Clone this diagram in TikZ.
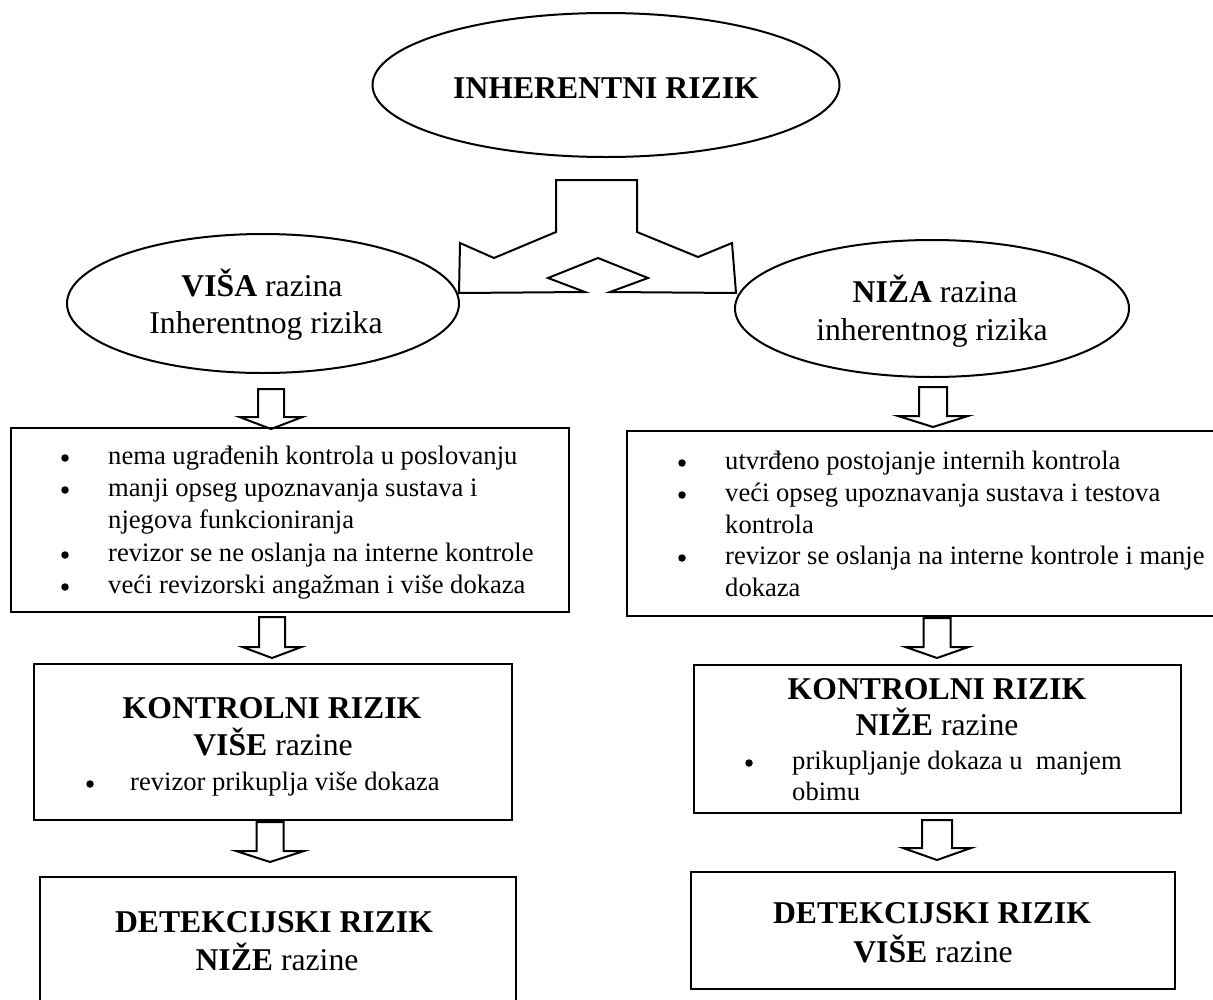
\documentclass[tikz,border=0pt]{standalone}
\usepackage{fontspec}
\setmainfont{Liberation Serif}
\usetikzlibrary{shapes.geometric}
\newcommand\blkarrow[7]{% name, cx, top, head base, tip, half stem, half head
  \draw[blk] ({#2-#6},#3) coordinate (#1) -- ({#2+#6},#3) -- ({#2+#6},#4) -- ({#2+#7},#4)
    -- (#2,#5) -- ({#2-#7},#4) -- ({#2-#6},#4) -- cycle;}
\begin{document}
\begin{tikzpicture}[x=1pt,y=-1pt,
  ln/.style={line width=2pt},
  ell/.style={ellipse, draw, ln, inner sep=0pt, outer sep=0pt},
  box/.style={rectangle, draw, line width=2.2pt, inner sep=0pt, outer sep=0pt},
  big/.style={font=\fontsize{31.7}{37}\selectfont, anchor=base, inner sep=0pt},
  body/.style={font=\fontsize{26.6}{31.7}\selectfont, anchor=base west, inner sep=0pt},
  bdot/.style={circle, fill=black, inner sep=0pt, minimum size=7.5},
  blk/.style={draw, ln, line join=miter}]
\useasboundingbox (0,0) rectangle (1213,999);
\clip (0,0) rectangle (1213,999);

% ellipses
\node[ell, minimum width=467, minimum height=144] (inh) at (606,85) {};
\node[big] (inhT) at (606,98) {\textbf{INHERENTNI RIZIK}};

\node[ell, minimum width=392, minimum height=139] (visa) at (263,303.5) {};
\node[big] (visaT1) at (262,296) {\textbf{VIŠA} razina};
\node[big] (visaT2) at (266,333) {Inherentnog rizika};

\node[ell, minimum width=394, minimum height=137] (niza) at (932,308.5) {};
\node[big] (nizaT1) at (935,302) {\textbf{NIŽA} razina};
\node[big] (nizaT2) at (932,340) {inherentnog rizika};

% fork arrow
\draw[blk] (556,180) -- (637,180) -- (637,232) -- (698,257) -- (732,243) -- (736,293)
  -- (610,292) -- (648,278) -- (598,258) -- (548,278) -- (585,292) -- (459,293)
  -- (460,243) -- (494,258) -- (556,232) -- cycle;

% left column
\blkarrow{aL1}{271}{389}{417}{429}{13}{31.5}
\node[box, minimum width=558, minimum height=184] (bL1) at (290,520) {};
\node[bdot] (bL1b1) at (65,458) {};
\node[body] (bL1t1) at (108,464) {nema ugrađenih kontrola u poslovanju};
\node[bdot] (bL1b2) at (65,490) {};
\node[body] (bL1t2) at (108,496) {manji opseg upoznavanja sustava i};
\node[body] (bL1t3) at (108,528) {njegova funkcioniranja};
\node[bdot] (bL1b4) at (65,555) {};
\node[body] (bL1t4) at (108,561) {revizor se ne oslanja na interne kontrole};
\node[bdot] (bL1b5) at (65,587) {};
\node[body] (bL1t5) at (108,593) {veći revizorski angažman i više dokaza};

\blkarrow{aL2}{272}{617}{647}{658}{13}{29.5}
\node[box, minimum width=478, minimum height=156] (bL2) at (273,742) {};
\node[big] (bL2t1) at (272,718) {\textbf{KONTROLNI RIZIK}};
\node[big] (bL2t2) at (273,755) {\textbf{VIŠE} razine};
\node[bdot] (bL2b) at (90,784) {};
\node[body] (bL2t3) at (130,790) {revizor prikuplja više dokaza};

\blkarrow{aL3}{270}{822}{851}{862}{13.5}{34}
\node[box, minimum width=476, minimum height=140] (bL3) at (278,947) {};
\node[big] (bL3t1) at (274,932) {\textbf{DETEKCIJSKI RIZIK}};
\node[big] (bL3t2) at (277,970) {\textbf{NIŽE} razine};

% right column
\blkarrow{aR1}{933}{387}{416}{427}{14}{35}
\node[box, minimum width=598, minimum height=185] (bR1) at (926,523.5) {};
\node[bdot] (bR1b1) at (682,463) {};
\node[body] (bR1t1) at (725,469) {utvrđeno postojanje internih kontrola};
\node[bdot] (bR1b2) at (682,495) {};
\node[body] (bR1t2) at (725,501) {veći opseg upoznavanja sustava i testova};
\node[body] (bR1t3) at (725,533) {kontrola};
\node[bdot] (bR1b4) at (682,558) {};
\node[body] (bR1t4) at (725,564) {revizor se oslanja na interne kontrole i manje};
\node[body] (bR1t5) at (725,596) {dokaza};

\blkarrow{aR2}{937}{618}{647}{658}{13.5}{31.5}
\node[box, minimum width=487, minimum height=148] (bR2) at (937.5,739) {};
\node[big] (bR2t1) at (937,699) {\textbf{KONTROLNI RIZIK}};
\node[big] (bR2t2) at (937,735) {\textbf{NIŽE} razine};
\node[bdot] (bR2b) at (749,763) {};
\node[body] (bR2t3) at (792,769) {prikupljanje dokaza u\ \ manjem};
\node[body] (bR2t4) at (792,800) {obimu};

\blkarrow{aR3}{937}{820}{848}{860}{15}{34}
\node[box, minimum width=484, minimum height=117] (bR3) at (933,930.5) {};
\node[big] (bR3t1) at (932,923) {\textbf{DETEKCIJSKI RIZIK}};
\node[big] (bR3t2) at (933,962) {\textbf{VIŠE} razine};
\end{tikzpicture}
\end{document}
